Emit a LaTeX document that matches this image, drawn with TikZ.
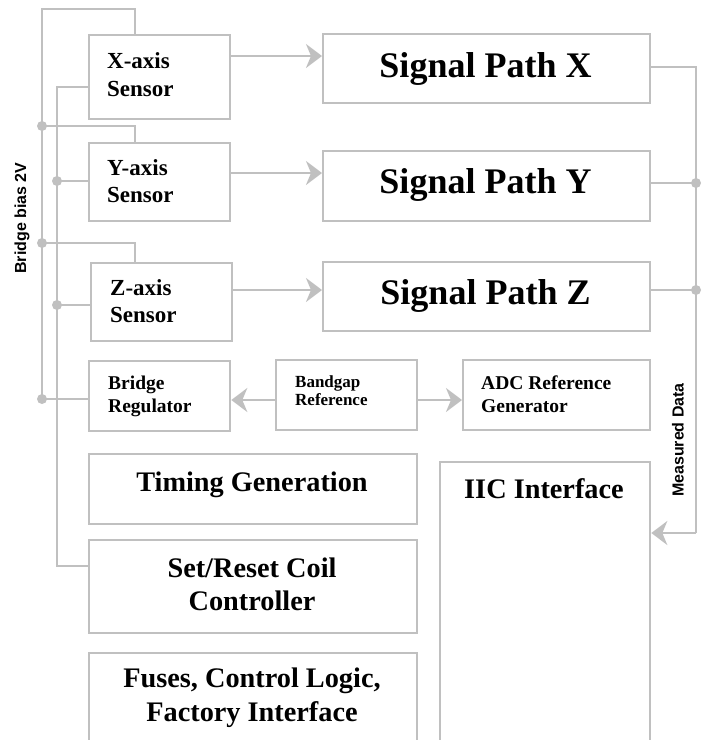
\documentclass[tikz,border=0pt]{standalone}
\usepackage{fontspec}
\setmainfont{Liberation Serif}
\newfontfamily\lsans{Liberation Sans}
\usetikzlibrary{arrows.meta}
\definecolor{lg}{RGB}{192,192,192}
\tikzset{
  box/.style={draw=lg, line width=2.3pt, fill=white, inner sep=0pt, anchor=north west},
  wire/.style={draw=lg, line width=2.3pt},
  arr/.style={wire, -{Stealth[length=16pt,width=24pt,inset=5pt,color=lg]}},
  dot/.style={fill=lg},
  tl/.style={anchor=base west, inner sep=0pt, font=\bfseries\fontsize{23}{28}\selectfont},
  tm/.style={anchor=base west, inner sep=0pt, font=\bfseries\fontsize{19.5}{23}\selectfont},
  ts/.style={anchor=base west, inner sep=0pt, font=\bfseries\fontsize{17}{19}\selectfont},
  tbig/.style={anchor=base, inner sep=0pt, font=\bfseries\fontsize{36}{40}\selectfont},
  tmid/.style={anchor=base, inner sep=0pt, font=\bfseries\fontsize{28.3}{33}\selectfont},
  lbl/.style={rotate=90, inner sep=0pt, font=\lsans\bfseries\fontsize{16}{18}\selectfont},
}
\begin{document}
\begin{tikzpicture}[x=1pt,y=-1pt]
\useasboundingbox (0,0) rectangle (702,740);
\clip (0,0) rectangle (702,740);
% boxes
\node[box, minimum width=141pt, minimum height=84pt] (xs) at (88,34) {};
\node[box, minimum width=141pt, minimum height=78pt] (ys) at (88,142) {};
\node[box, minimum width=141pt, minimum height=78pt] (zs) at (90,262) {};
\node[box, minimum width=141pt, minimum height=70pt] (br) at (88,360) {};
\node[box, minimum width=141pt, minimum height=70pt] (bg) at (275,359) {};
\node[box, minimum width=187pt, minimum height=70pt] (adc) at (462,359) {};
\node[box, minimum width=327pt, minimum height=69pt] (spx) at (322,33) {};
\node[box, minimum width=327pt, minimum height=70pt] (spy) at (322,150) {};
\node[box, minimum width=327pt, minimum height=69pt] (spz) at (322,261) {};
\node[box, minimum width=328pt, minimum height=70pt] (tg) at (88,453) {};
\node[box, minimum width=328pt, minimum height=93pt] (sr) at (88,539) {};
\node[box, minimum width=328pt, minimum height=110pt] (fu) at (88,652) {};
\node[box, minimum width=210pt, minimum height=300pt] (iic) at (439,461) {};
% texts
\node[tl] (xs1) at (107,68) {X-axis};
\node[tl] (xs2) at (107,96) {Sensor};
\node[tl] (ys1) at (107,175) {Y-axis};
\node[tl] (ys2) at (107,202) {Sensor};
\node[tl] (zs1) at (110,295) {Z-axis};
\node[tl] (zs2) at (110,322) {Sensor};
\node[tm] (br1) at (108,389) {Bridge};
\node[tm] (br2) at (108,412) {Regulator};
\node[ts] (bg1) at (295,387) {Bandgap};
\node[ts] (bg2) at (295,405) {Reference};
\node[tm] (adc1) at (481,389) {ADC Reference};
\node[tm] (adc2) at (481,412) {Generator};
\node[tbig] (spx1) at (485.5,77) {Signal Path X};
\node[tbig] (spy1) at (485.5,193) {Signal Path Y};
\node[tbig] (spz1) at (485.5,304) {Signal Path Z};
\node[tmid] (tg1) at (252,491) {Timing Generation};
\node[tmid] (sr1) at (252,577) {Set/Reset Coil};
\node[tmid] (sr2) at (252,610) {Controller};
\node[tmid] (fu1) at (252,687) {Fuses, Control Logic,};
\node[tmid] (fu2) at (252,721) {Factory Interface};
\node[tmid] (iic1) at (544,498) {IIC Interface};
\node[lbl] (bb) at (22,218) {Bridge bias 2V};
\node[lbl] (md) at (678,440) {Measured Data};
% coordinates
\coordinate (b1t) at (42,9);
\coordinate (b1x) at (135,9);
\coordinate (d1y) at (42,126);
\coordinate (b1y) at (135,126);
\coordinate (d1z) at (42,243);
\coordinate (b1z) at (135,243);
\coordinate (d1r) at (42,399);
\coordinate (b2t) at (57,87);
\coordinate (d2y) at (57,181);
\coordinate (d2z) at (57,305);
\coordinate (b2b) at (57,566);
\coordinate (ax) at (0,56);
\coordinate (ay) at (0,173);
\coordinate (az) at (0,290);
\coordinate (rx) at (696,67);
\coordinate (ry) at (696,183);
\coordinate (rz) at (696,290);
\coordinate (rb) at (696,533);
\coordinate (bgy) at (0,400);
% left buses
\draw[wire] (d1r) -- (b1t) -- (b1x) -- (b1x |- xs.north);
\draw[wire] (d1y) -- (b1y) -- (b1y |- ys.north);
\draw[wire] (d1z) -- (b1z) -- (b1z |- zs.north);
\draw[wire] (d1r) -- (d1r -| br.west);
\draw[wire] (xs.west |- b2t) -- (b2t) -- (b2b) -- (b2b -| sr.west);
\draw[wire] (d2y) -- (d2y -| ys.west);
\draw[wire] (d2z) -- (d2z -| zs.west);
\foreach \p in {d1y,d1z,d1r,d2y,d2z,ry,rz} \fill[dot] (\p) circle (5pt);
% signal arrows
\draw[arr] (ax -| xs.east) -- (ax -| spx.west);
\draw[arr] (ay -| ys.east) -- (ay -| spy.west);
\draw[arr] (az -| zs.east) -- (az -| spz.west);
% right bus
\draw[wire] (rx -| spx.east) -- (rx) -- (rb);
\draw[wire] (ry -| spy.east) -- (ry);
\draw[wire] (rz -| spz.east) -- (rz);
\draw[arr] (rb) -- (rb -| iic.east);
% bandgap
\draw[arr] (bgy -| bg.west) -- (bgy -| br.east);
\draw[arr] (bgy -| bg.east) -- (bgy -| adc.west);
\end{tikzpicture}
\end{document}
